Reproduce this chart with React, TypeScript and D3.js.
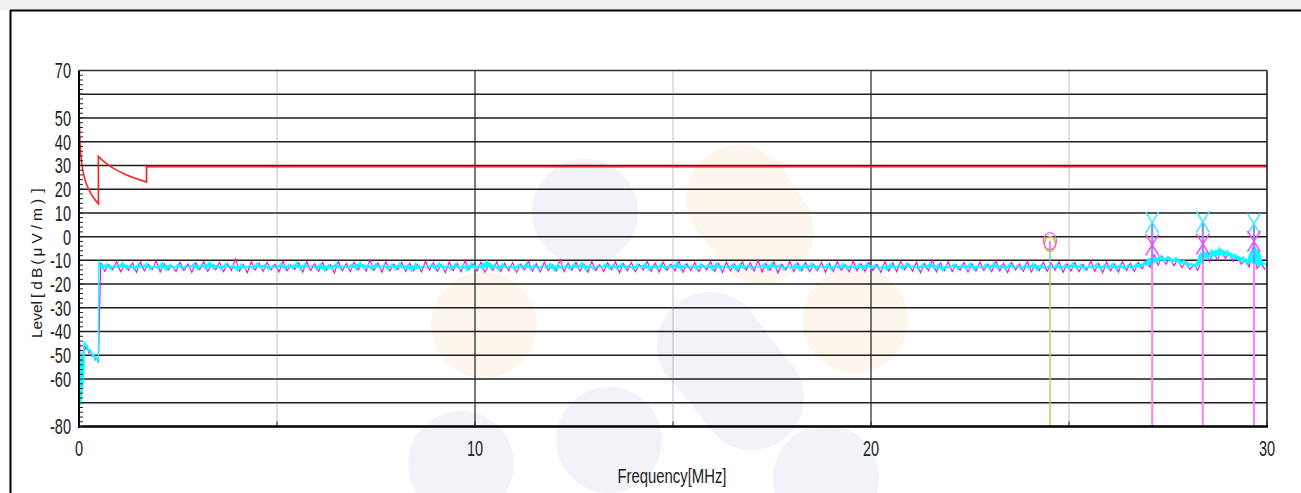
import React from 'react';
import * as d3 from 'd3';

const W = 1301;
const H = 493;

// Limit line (FCC 15.209 style), frequency [MHz] and level [dBµV/m]
const limitFreq = [0.009, 0.02, 0.04, 0.07, 0.1, 0.15, 0.2, 0.3, 0.4, 0.49, 0.49, 0.6, 0.8, 1.0, 1.2, 1.4, 1.705, 1.705, 30];
const limitLevel = [48.5, 41.6, 35.6, 30.7, 27.6, 24.1, 21.6, 18.1, 15.6, 13.8, 33.8, 32.0, 29.5, 27.6, 26.0, 24.7, 23.0, 29.5, 29.5];

// Low-frequency part of the traces (below 0.5 MHz)
const cyanLowFreq = [0.009, 0.013, 0.017, 0.021, 0.025, 0.029, 0.033, 0.037, 0.041, 0.045, 0.049, 0.053, 0.057, 0.061, 0.065, 0.069, 0.073, 0.077, 0.081, 0.085, 0.089, 0.093, 0.097, 0.101, 0.105, 0.109, 0.113, 0.117, 0.121, 0.125, 0.13, 0.14, 0.15, 0.17, 0.19, 0.21, 0.23, 0.25, 0.27, 0.29, 0.31, 0.33, 0.35, 0.37, 0.39, 0.41, 0.43, 0.45, 0.47, 0.49];
const cyanLowLevel = [-41, -58, -47, -66, -51, -69, -55, -71, -53, -68, -57, -70, -52, -67, -56, -63, -50, -66, -54, -62, -49, -64, -53, -60, -48, -61, -52, -58, -47, -55, -44, -46, -44.5, -45.5, -46.8, -46, -47.5, -48.2, -47.6, -49, -48.5, -49.8, -50.3, -49.6, -51, -50.6, -51.8, -51.2, -52.5, -52.0];
const magentaLowFreq = [0.009, 0.015, 0.021, 0.03, 0.045, 0.06, 0.08, 0.1, 0.12, 0.14, 0.17, 0.21, 0.25, 0.29, 0.33, 0.37, 0.41, 0.45, 0.49];
const magentaLowLevel = [-36, -50, -45, -60, -52, -62, -55, -58, -50, -45, -47.5, -46.8, -49, -48, -50.5, -50, -52, -51.5, -53];

// Main part: cyan sampled every 0.1 MHz from 0.5 MHz, magenta every 0.1 MHz from 0.55 MHz
const cyanStart = 0.5;
const magentaStart = 0.55;
const sampleStep = 0.1;
const cyanLevel = [
  -10.8, -13.6, -11.4, -14.0, -11.9, -13.2, -10.9, -13.8, -12.0, -14.1, -11.5, -13.4, -11.2, -13.9, -12.2, -13.5, -11.0, -14.2, -11.7, -13.3,
  -11.6, -13.8, -12.1, -13.1, -11.3, -14.0, -11.8, -13.6, -10.6, -13.7, -12.0, -13.9, -11.4, -13.2, -11.9, -14.3, -11.5, -13.5, -12.2, -13.8,
  -11.1, -13.4, -11.7, -14.1, -12.0, -13.3, -11.3, -13.9, -11.8, -13.6, -10.9, -14.0, -11.6, -13.2, -12.1, -13.7, -11.4, -14.4, -11.9, -13.5,
  -11.2, -13.8, -12.2, -13.4, -11.5, -13.9, -10.8, -13.6, -11.8, -14.1, -11.3, -13.3, -12.0, -13.8, -11.6, -14.0, -11.1, -13.5, -11.9, -14.6,
  -11.4, -13.7, -12.1, -13.2, -11.7, -13.9, -11.0, -13.6, -12.3, -14.0, -11.5, -13.4, -11.8, -14.2, -11.2, -13.5, -12.0, -13.8, -10.2, -13.6,
  -11.9, -14.1, -11.4, -13.3, -12.2, -13.9, -11.6, -13.5, -11.1, -14.0, -11.8, -13.7, -12.0, -13.2, -11.3, -14.3, -11.7, -13.6, -12.1, -13.9,
  -11.5, -13.4, -11.0, -14.1, -11.9, -13.8, -12.2, -13.3, -11.4, -13.7, -11.8, -14.0, -11.2, -13.5, -12.0, -13.9, -11.6, -13.2, -11.3, -14.2,
  -12.1, -13.6, -11.5, -13.8, -11.9, -13.4, -10.9, -14.0, -11.7, -13.5, -12.2, -13.9, -11.4, -13.3, -11.8, -14.1, -11.1, -13.7, -12.0, -13.4,
  -11.6, -14.2, -11.3, -13.6, -11.9, -13.8, -12.1, -13.2, -11.5, -14.0, -11.0, -13.5, -11.8, -13.9, -12.2, -13.4, -11.4, -14.3, -11.7, -13.6,
  -11.2, -13.8, -12.0, -13.3, -11.6, -14.1, -11.9, -13.5, -11.3, -13.9, -12.1, -13.6, -11.5, -14.0, -11.1, -13.4, -11.8, -13.7, -12.2, -14.2,
  -11.4, -13.5, -11.9, -13.9, -11.2, -13.3, -12.0, -14.0, -11.6, -13.6, -11.0, -13.8, -11.7, -14.4, -12.1, -13.2, -11.5, -13.9, -11.8, -13.5,
  -11.3, -14.1, -12.2, -13.4, -11.6, -13.8, -11.1, -13.6, -11.9, -14.0, -11.4, -13.3, -12.0, -13.9, -11.7, -13.5, -11.2, -14.2, -11.8, -13.7,
  -12.1, -13.4, -11.5, -14.0, -11.9, -13.6, -11.0, -13.8, -11.7, -14.1, -12.2, -13.3, -11.4, -13.9, -11.8, -13.5, -11.3, -14.0, -11.6, -13.7,
  -11.9, -13.8, -11.4, -13.2, -10.6, -12.4, -8.2, -11.0, -7.9, -10.6, -8.4, -10.9, -8.8, -11.6, -9.9, -12.5, -11.2, -13.0, -10.4, -6.0,
  -9.4, -5.6, -8.7, -4.8, -8.2, -5.9, -9.1, -7.4, -10.3, -8.6, -11.8, -9.7, -4.5, -12.6, -10.8, -12.2,
];
const magentaLevel = [
  -10.9, -14.6, -11.8, -13.9, -10.4, -14.8, -12.0, -14.2, -11.1, -15.0, -10.7, -14.4, -11.6, -13.8, -10.2, -14.9, -11.3, -14.1, -12.2, -14.7,
  -10.8, -14.3, -11.5, -15.1, -11.0, -13.9, -10.5, -14.6, -11.9, -14.0, -10.9, -14.8, -11.4, -14.2, -9.3, -14.5, -11.7, -15.2, -10.6, -14.1,
  -11.2, -14.7, -10.8, -14.0, -11.6, -14.9, -10.3, -14.4, -11.9, -13.8, -11.0, -15.0, -10.6, -14.3, -11.4, -14.6, -10.9, -14.1, -11.8, -15.3,
  -10.5, -14.4, -11.3, -14.8, -10.8, -14.0, -11.7, -14.6, -9.8, -14.2, -11.1, -15.0, -10.6, -14.5, -11.5, -13.9, -10.9, -14.7, -11.2, -14.3,
  -11.6, -14.9, -10.4, -14.1, -11.0, -14.6, -11.8, -15.2, -10.7, -14.3, -11.3, -14.8, -10.1, -14.0, -11.5, -14.5, -10.8, -15.0, -11.9, -14.2,
  -10.6, -14.7, -11.2, -14.4, -10.9, -15.1, -11.6, -14.0, -10.3, -14.6, -11.4, -14.9, -10.7, -14.2, -11.8, -14.5, -9.6, -14.8, -11.1, -14.1,
  -10.8, -14.6, -11.5, -15.0, -10.5, -14.3, -11.9, -14.7, -11.0, -14.0, -10.6, -15.2, -11.3, -14.4, -10.9, -14.8, -11.7, -14.1, -10.4, -14.6,
  -11.1, -14.9, -10.7, -14.2, -11.6, -14.5, -10.2, -15.0, -11.4, -14.3, -10.9, -14.7, -11.8, -14.0, -10.5, -14.6, -11.2, -15.1, -10.8, -14.4,
  -11.5, -14.8, -10.6, -14.1, -11.0, -14.5, -9.9, -14.9, -11.3, -14.2, -10.7, -15.3, -11.7, -14.0, -10.4, -14.7, -11.1, -14.4, -10.9, -14.8,
  -11.6, -14.3, -10.8, -15.0, -11.2, -14.6, -10.5, -14.1, -11.9, -14.9, -10.3, -14.4, -11.4, -14.7, -10.9, -14.2, -11.7, -15.1, -10.6, -14.5,
  -11.0, -14.8, -10.4, -14.0, -11.5, -14.6, -10.8, -15.2, -11.3, -14.3, -9.7, -14.9, -11.1, -14.4, -10.6, -14.7, -11.8, -14.1, -10.9, -15.0,
  -11.4, -14.5, -10.7, -14.2, -11.6, -14.8, -10.2, -14.4, -11.2, -15.1, -10.9, -14.0, -11.5, -14.6, -10.5, -14.9, -11.9, -14.3, -10.8, -14.7,
  -11.1, -14.2, -10.6, -15.0, -11.4, -14.5, -10.9, -14.8, -11.7, -14.1, -10.3, -14.6, -11.2, -15.2, -10.7, -14.4, -11.5, -14.9, -10.5, -14.3,
  -11.3, -14.7, -10.9, -13.6, -9.8, -12.9, -7.6, -12.1, -8.3, -11.7, -8.9, -12.3, -9.4, -13.1, -10.6, -13.8, -12.0, -14.2, -9.8, -7.1,
  -10.5, -6.3, -9.9, -5.7, -9.2, -6.8, -10.4, -8.2, -11.6, -9.5, -12.8, -4.0, -13.4, -11.2, -13.9,
];

// Markers
const circleMarkerFreq = 24.52;
const circleMarkerLevel = -2.3;
const circleMarkerTrace = -12.5;
const xMarkerFreq = [27.1, 28.38, 29.67];
const xMarkerCyanLevel = [6.0, 6.2, 5.4];
const xMarkerMagentaLevel = [-3.5, -3.2, -2.0];
const xMarkerTraceLevel = [-12.0, -11.5, -11.5];

// Axes
const yTickLabels = [70, 50, 40, 30, 20, 10, 0, -10, -20, -30, -40, -50, -60, -80];
const xTickLabels = [0, 10, 20, 30];
const solidVGrid = [10, 20];
const dottedVGrid = [5, 15, 25];

// Decorative watermark (pixel layout)
const watermarkBlue = [
  { cx: 585, cy: 212 }, { cx: 710, cy: 345 }, { cx: 826, cy: 478 }, { cx: 461, cy: 464 }, { cx: 609, cy: 440 },
];
const watermarkOrange = [
  { cx: 739, cy: 198 }, { cx: 855, cy: 320 }, { cx: 484, cy: 325 },
];

function envelope(pts: [number, number][]) {
  // running min / max over neighbouring samples of the measured trace
  return pts.map((p, i) => {
    const a = pts[Math.max(0, i - 1)][1];
    const b = pts[Math.min(pts.length - 1, i + 1)][1];
    const lo = Math.min(a, p[1], b);
    const hi = Math.max(a, p[1], b);
    return { f: p[0], lo: lo + 0.8, hi: hi - 0.8 };
  });
}

export default function App() {
  React.useEffect(() => {
    document.body.style.margin = '0';
  }, []);

  const x = d3.scaleLinear().domain([0, 30]).range([79, 1267]);
  const y = d3.scaleLinear().domain([-80, 70]).range([426.5, 70.5]);

  const line = d3.line<[number, number]>().x((d) => x(d[0])).y((d) => y(d[1]));

  const limitPts: [number, number][] = limitFreq.map((f, i) => [f, limitLevel[i]]);
  const cyanMain: [number, number][] = cyanLevel.map((v, i) => [cyanStart + sampleStep * i, v]);
  const magentaMain: [number, number][] = magentaLevel.map((v, i) => [magentaStart + sampleStep * i, v]);
  const cyanPts: [number, number][] = [
    ...cyanLowFreq.map((f, i) => [f, cyanLowLevel[i]] as [number, number]),
    ...cyanMain,
  ];
  const magentaPts: [number, number][] = [
    ...magentaLowFreq.map((f, i) => [f, magentaLowLevel[i]] as [number, number]),
    ...magentaMain,
  ];

  const band = d3
    .area<{ f: number; lo: number; hi: number }>()
    .x((d) => x(d.f))
    .y0((d) => y(d.lo))
    .y1((d) => y(d.hi));
  const cyanBand = envelope(cyanMain);

  const hGrid = d3.range(-70, 70, 10);
  const minorTicks = d3.range(-80, 71, 2);
  const xMinor = d3.range(0, 31, 5);

  const tickFont = { fontFamily: 'Liberation Sans, Arial, sans-serif', fontSize: 22, fill: '#222' };
  const xMarkerPath = 'M-6.5,-10.5L6.5,10.5M6.5,-10.5L-6.5,10.5';

  return (
    <svg width={W} height={H} style={{ position: 'absolute', left: 0, top: 0, display: 'block', background: '#fff' }}>
      {/* outer frame */}
      <rect x={0} y={0} width={W} height={10} fill="#f0f0f0" />
      <line x1={10} x2={W} y1={10.5} y2={10.5} stroke="#000" strokeWidth={2} />
      <line x1={10.5} x2={10.5} y1={10} y2={H} stroke="#000" strokeWidth={2} />

      {/* watermark */}
      <g>
        <line x1={739} y1={198} x2={762} y2={232} stroke="#fdf6ec" strokeWidth={104} strokeLinecap="round" />
        <line x1={710} y1={345} x2={752} y2={398} stroke="#f2f3f8" strokeWidth={104} strokeLinecap="round" />
        {watermarkBlue.map((c, i) => (
          <circle key={'b' + i} cx={c.cx} cy={c.cy} r={53} fill="#f2f3f8" />
        ))}
        {watermarkOrange.map((c, i) => (
          <circle key={'o' + i} cx={c.cx} cy={c.cy} r={53} fill="#fdf6ec" />
        ))}
      </g>

      {/* grid */}
      {hGrid.map((v) => (
        <line key={'h' + v} x1={x(0)} x2={x(30)} y1={y(v)} y2={y(v)} stroke="#1e1e1e" strokeWidth={1.5} />
      ))}
      {dottedVGrid.map((v) => (
        <line key={'dv' + v} x1={x(v)} x2={x(v)} y1={y(70)} y2={y(-80)} stroke="#808080" strokeWidth={1} strokeDasharray="1,1" />
      ))}
      {solidVGrid.map((v) => (
        <line key={'sv' + v} x1={x(v)} x2={x(v)} y1={y(70)} y2={y(-80)} stroke="#222" strokeWidth={1.2} />
      ))}

      {/* limit */}
      <path d={line(limitPts) || ''} fill="none" stroke="#ff2020" strokeWidth={1.6} />

      {/* traces */}
      <path d={line(magentaPts) || ''} fill="none" stroke="#ff00ff" strokeWidth={1.1} />
      <path d={band(cyanBand) || ''} fill="#00ffff" stroke="none" />
      <path d={line(cyanPts) || ''} fill="none" stroke="#00ffff" strokeWidth={1.4} />

      {/* circle marker */}
      <line x1={x(circleMarkerFreq)} x2={x(circleMarkerFreq)} y1={y(circleMarkerLevel) + 8} y2={y(circleMarkerTrace)} stroke="#55cccc" strokeWidth={1.4} />
      <line x1={x(circleMarkerFreq)} x2={x(circleMarkerFreq)} y1={y(circleMarkerTrace)} y2={y(-80)} stroke="#c4c84a" strokeWidth={1.4} />
      <line x1={x(circleMarkerFreq)} x2={x(circleMarkerFreq)} y1={y(circleMarkerLevel) - 1} y2={y(circleMarkerLevel) + 8} stroke="#ff33ff" strokeWidth={1.3} />
      <ellipse cx={x(circleMarkerFreq)} cy={y(circleMarkerLevel) + 2} rx={5.5} ry={7.5} fill="none" stroke="#c4c83a" strokeWidth={1.5} />
      <ellipse cx={x(circleMarkerFreq)} cy={y(circleMarkerLevel) - 1} rx={6.5} ry={8.5} fill="none" stroke="#ff55ff" strokeWidth={1.3} />

      {/* X markers */}
      {xMarkerFreq.map((f, i) => (
        <g key={'xm' + i}>
          <line x1={x(f)} x2={x(f)} y1={y(xMarkerCyanLevel[i])} y2={y(-80)} stroke="#ff80ff" strokeWidth={2} />
          <line x1={x(f)} x2={x(f)} y1={y(xMarkerCyanLevel[i])} y2={y(xMarkerTraceLevel[i])} stroke="#8c8cff" strokeWidth={2} />
          <path d={xMarkerPath} transform={`translate(${x(f)},${y(xMarkerCyanLevel[i])})`} fill="none" stroke="#33eeff" strokeWidth={1.5} />
          <path d={xMarkerPath} transform={`translate(${x(f)},${y(xMarkerMagentaLevel[i])})`} fill="none" stroke="#ff44ff" strokeWidth={1.5} />
        </g>
      ))}

      {/* axes frame */}
      <line x1={x(0)} x2={x(30)} y1={y(70)} y2={y(70)} stroke="#333" strokeWidth={1.5} />
      <line x1={x(30)} x2={x(30)} y1={y(70)} y2={y(-80)} stroke="#111" strokeWidth={1.5} />
      <line x1={x(0)} x2={x(0)} y1={y(70)} y2={y(-80) + 1} stroke="#000" strokeWidth={2} />
      <line x1={x(0) - 1} x2={x(30) + 1} y1={y(-80)} y2={y(-80)} stroke="#000" strokeWidth={2.5} />
      {minorTicks.map((v) => (
        <line key={'mt' + v} x1={x(0)} x2={x(0) + 4} y1={y(v)} y2={y(v)} stroke="#222" strokeWidth={1} />
      ))}
      {xMinor.map((v) => (
        <line key={'xt' + v} x1={x(v)} x2={x(v)} y1={y(-80)} y2={y(-80) - 5} stroke="#222" strokeWidth={1} />
      ))}

      {/* tick labels */}
      {yTickLabels.map((v) => (
        <text key={'yl' + v} transform={`translate(71,${y(v)}) scale(0.66,1)`} textAnchor="end" dy="0.36em" style={tickFont}>
          {v < 0 ? '-' + Math.abs(v) : String(v)}
        </text>
      ))}
      {xTickLabels.map((v) => (
        <text key={'xl' + v} transform={`translate(${x(v)},448) scale(0.66,1)`} textAnchor="middle" dy="0.36em" style={tickFont}>
          {String(v)}
        </text>
      ))}

      {/* axis titles */}
      <text x={672} y={483} textAnchor="middle" textLength={109} lengthAdjust="spacingAndGlyphs"
        style={{ fontFamily: 'Liberation Sans, Arial, sans-serif', fontSize: 20, fill: '#222' }}>
        Frequency[MHz]
      </text>
      <text transform="translate(41.5,338) rotate(-90)" textAnchor="start"
        style={{ fontFamily: 'Liberation Sans, Arial, sans-serif', fontSize: 15.5, fill: '#222' }}>
        <tspan>Level</tspan>
        <tspan dx={3}>[</tspan>
        <tspan dx={4} style={{ letterSpacing: '3px' }}>dB</tspan>
        <tspan dx={0}>(</tspan>
        <tspan dx={3} style={{ letterSpacing: '4px' }}>μV/m</tspan>
        <tspan dx={0}>)</tspan>
        <tspan dx={6}>]</tspan>
      </text>
    </svg>
  );
}
